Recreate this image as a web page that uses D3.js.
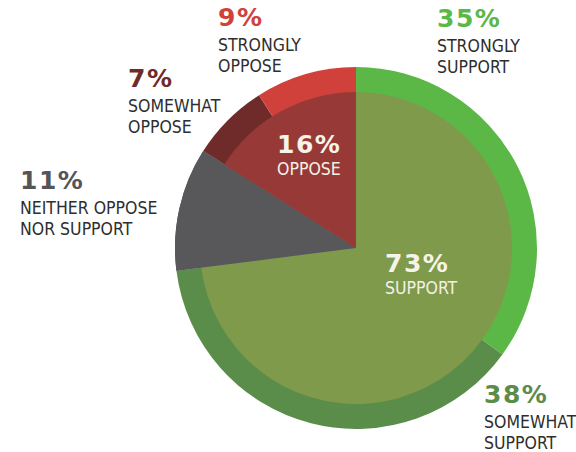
<!DOCTYPE html>
<html>
<head>
<meta charset="utf-8">
<script src="https://cdn.jsdelivr.net/npm/d3@7"></script>
<style>
  body { margin: 0; background: #fff; }
  .lbl { font-family: "DejaVu Sans Condensed", "DejaVu Sans", sans-serif; font-stretch: condensed; }
  .pct { font-family: "DejaVu Sans", sans-serif; font-weight: bold; }
</style>
</head>
<body>
<div id="chart"></div>
<script>
// outer ring: detailed answers
const ringNames = ['STRONGLY SUPPORT', 'SOMEWHAT SUPPORT', 'NEITHER OPPOSE NOR SUPPORT', 'SOMEWHAT OPPOSE', 'STRONGLY OPPOSE'];
const ringValues = [35, 38, 11, 7, 9];
const ringColors = ['#5cb846', '#5a8c4a', '#58585a', '#6f2b29', '#d1413c'];

// inner pie: grouped answers
const innerNames = ['SUPPORT', 'NEITHER', 'OPPOSE'];
const innerValues = [73, 11, 16];
const innerColors = ['#7e9a4a', '#58585a', '#973a37'];

// label lines beside the ring
const ringLabelLines = [
  ['STRONGLY', 'SUPPORT'],
  ['SOMEWHAT', 'SUPPORT'],
  ['NEITHER OPPOSE', 'NOR SUPPORT'],
  ['SOMEWHAT', 'OPPOSE'],
  ['STRONGLY', 'OPPOSE']
];
const ringLabelPos = [[437, 27], [484, 403], [20, 189], [128, 87], [218, 26]];
const innerLabelPos = [[385, 272], null, [277, 153]];

const width = 576, height = 452;
const cx = 356, cy = 248, R = 181, r = 156;

const svg = d3.select('#chart').append('svg')
  .attr('width', width).attr('height', height);

const pie = d3.pie().sort(null).value(d => d);
const g = svg.append('g').attr('transform', `translate(${cx},${cy})`);

const outerArc = d3.arc().innerRadius(0).outerRadius(R);
g.selectAll('path.ring')
  .data(pie(ringValues))
  .join('path')
  .attr('class', 'ring')
  .attr('d', outerArc)
  .attr('fill', (d, i) => ringColors[i]);

const innerArc = d3.arc().innerRadius(0).outerRadius((d, i) => i === 1 ? R : r);
g.selectAll('path.inner')
  .data(pie(innerValues))
  .join('path')
  .attr('class', 'inner')
  .attr('d', (d, i) => innerArc(d, i))
  .attr('fill', (d, i) => innerColors[i]);

// labels around the ring
ringValues.forEach((v, i) => {
  const [x, y] = ringLabelPos[i];
  const t = svg.append('g').attr('transform', `translate(${x},${y})`);
  t.append('text').attr('class', 'pct')
    .attr('font-size', 25).attr('letter-spacing', 1.5)
    .attr('fill', ringColors[i] === '#58585a' ? '#555557' : ringColors[i])
    .text(v + '%');
  ringLabelLines[i].forEach((line, j) => {
    t.append('text').attr('class', 'lbl')
      .attr('y', 25 + j * 21)
      .attr('font-size', 17.5)
      .attr('fill', '#2e2e2e')
      .text(line);
  });
});

// labels inside the pie
innerValues.forEach((v, i) => {
  if (!innerLabelPos[i]) return;
  const [x, y] = innerLabelPos[i];
  const t = svg.append('g').attr('transform', `translate(${x},${y})`);
  t.append('text').attr('class', 'pct')
    .attr('font-size', 25).attr('letter-spacing', 1.5)
    .attr('fill', '#f6f4ea')
    .text(v + '%');
  t.append('text').attr('class', 'lbl')
    .attr('y', 22)
    .attr('font-size', 17.5)
    .attr('fill', '#f3f1e6')
    .text(innerNames[i]);
});
</script>
</body>
</html>
